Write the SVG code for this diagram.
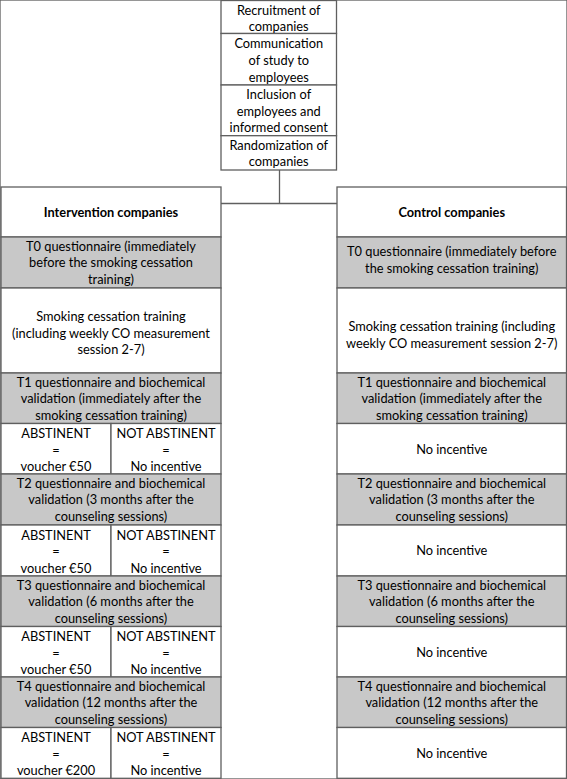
<svg xmlns="http://www.w3.org/2000/svg" width="567" height="779" viewBox="0 0 567 779">
<style>
rect{stroke:#5f5f5f;stroke-width:1.3}
.w{fill:#ffffff}
.g{fill:#c8c8c8}
text{font-family:Lato,"Liberation Sans",sans-serif;font-size:12.8px;fill:#000;text-anchor:middle}
.b{font-weight:bold}
.c line{stroke:#5f5f5f;stroke-width:1.3}
</style>
<rect x="0" y="0" width="567" height="779" fill="#fff" stroke="none"/>
<g class="c" id="connectors">
<line x1="279.5" y1="170" x2="279.5" y2="203.5"/>
<line x1="221" y1="203.5" x2="337" y2="203.5"/>
</g>
<g id="recruit"><rect class="w" x="221" y="0.5" width="115.5" height="33"/><text x="278.75" y="14.5">Recruitment of</text><text x="278.75" y="30.5">companies</text></g>
<g id="communication"><rect class="w" x="221" y="33.5" width="115.5" height="51.5"/><text x="278.75" y="48">Communication</text><text x="278.75" y="65">of study to</text><text x="278.75" y="81.5">employees</text></g>
<g id="inclusion"><rect class="w" x="221" y="85" width="115.5" height="50.7"/><text x="278.75" y="99">Inclusion of</text><text x="278.75" y="115.5">employees and</text><text x="278.75" y="132">informed consent</text></g>
<g id="randomization"><rect class="w" x="221" y="135.7" width="115.5" height="34.3"/><text x="278.75" y="149.5">Randomization of</text><text x="278.75" y="166">companies</text></g>

<g id="int-header"><rect class="w" x="1" y="187" width="220" height="50"/><text class="b" x="111" y="216.5">Intervention companies</text></g>
<g id="int-t0"><rect class="g" x="1" y="237" width="220" height="51"/><text x="111" y="250.5">T0 questionnaire (immediately</text><text x="111" y="267">before the smoking cessation</text><text x="111" y="283.7">training)</text></g>
<g id="int-training"><rect class="w" x="1" y="288" width="220" height="85"/><text x="111" y="321">Smoking cessation training</text><text x="111" y="337.5">(including weekly CO measurement</text><text x="111" y="354">session 2-7)</text></g>
<g id="int-t1"><rect class="g" x="1" y="373" width="220" height="50.5"/><text x="111" y="386.5">T1 questionnaire and biochemical</text><text x="111" y="403">validation (immediately after the</text><text x="111" y="419.7">smoking cessation training)</text></g>
<g id="int-r1"><rect class="w" x="1" y="423.5" width="110" height="50.5"/><rect class="w" x="111" y="423.5" width="110" height="50.5"/><text x="56" y="438">ABSTINENT</text><text x="56" y="454.5">=</text><text x="56" y="471">voucher €50</text><text x="166" y="438">NOT ABSTINENT</text><text x="166" y="454.5">=</text><text x="166" y="471">No incentive</text></g>
<g id="int-t2"><rect class="g" x="1" y="474" width="220" height="51"/><text x="111" y="487.5">T2 questionnaire and biochemical</text><text x="111" y="504">validation (3 months after the</text><text x="111" y="520.7">counseling sessions)</text></g>
<g id="int-r2"><rect class="w" x="1" y="525" width="110" height="51"/><rect class="w" x="111" y="525" width="110" height="51"/><text x="56" y="539.5">ABSTINENT</text><text x="56" y="556">=</text><text x="56" y="572.5">voucher €50</text><text x="166" y="539.5">NOT ABSTINENT</text><text x="166" y="556">=</text><text x="166" y="572.5">No incentive</text></g>
<g id="int-t3"><rect class="g" x="1" y="576" width="220" height="50.5"/><text x="111" y="589.5">T3 questionnaire and biochemical</text><text x="111" y="606">validation (6 months after the</text><text x="111" y="622.7">counseling sessions)</text></g>
<g id="int-r3"><rect class="w" x="1" y="626.5" width="110" height="50.5"/><rect class="w" x="111" y="626.5" width="110" height="50.5"/><text x="56" y="641">ABSTINENT</text><text x="56" y="657.5">=</text><text x="56" y="674">voucher €50</text><text x="166" y="641">NOT ABSTINENT</text><text x="166" y="657.5">=</text><text x="166" y="674">No incentive</text></g>
<g id="int-t4"><rect class="g" x="1" y="677" width="220" height="50.5"/><text x="111" y="690.5">T4 questionnaire and biochemical</text><text x="111" y="707">validation (12 months after the</text><text x="111" y="723.7">counseling sessions)</text></g>
<g id="int-r4"><rect class="w" x="1" y="727.5" width="110" height="50.8"/><rect class="w" x="111" y="727.5" width="110" height="50.8"/><text x="56" y="742">ABSTINENT</text><text x="56" y="758.5">=</text><text x="56" y="775">voucher €200</text><text x="166" y="742">NOT ABSTINENT</text><text x="166" y="758.5">=</text><text x="166" y="775">No incentive</text></g>

<g id="ctl-header"><rect class="w" x="337" y="187" width="229.5" height="50"/><text class="b" x="451.75" y="216.5">Control companies</text></g>
<g id="ctl-t0"><rect class="g" x="337" y="237" width="229.5" height="51"/><text x="451.75" y="256">T0 questionnaire (immediately before</text><text x="451.75" y="272.5">the smoking cessation training)</text></g>
<g id="ctl-training"><rect class="w" x="337" y="288" width="229.5" height="85"/><text x="451.75" y="331">Smoking cessation training (including</text><text x="451.75" y="347.5">weekly CO measurement session 2-7)</text></g>
<g id="ctl-t1"><rect class="g" x="337" y="373" width="229.5" height="50.5"/><text x="451.75" y="386.5">T1 questionnaire and biochemical</text><text x="451.75" y="403">validation (immediately after the</text><text x="451.75" y="419.7">smoking cessation training)</text></g>
<g id="ctl-r1"><rect class="w" x="337" y="423.5" width="229.5" height="50.5"/><text x="451.75" y="453.5">No incentive</text></g>
<g id="ctl-t2"><rect class="g" x="337" y="474" width="229.5" height="51"/><text x="451.75" y="487.5">T2 questionnaire and biochemical</text><text x="451.75" y="504">validation (3 months after the</text><text x="451.75" y="520.7">counseling sessions)</text></g>
<g id="ctl-r2"><rect class="w" x="337" y="525" width="229.5" height="51"/><text x="451.75" y="555">No incentive</text></g>
<g id="ctl-t3"><rect class="g" x="337" y="576" width="229.5" height="50.5"/><text x="451.75" y="589.5">T3 questionnaire and biochemical</text><text x="451.75" y="606">validation (6 months after the</text><text x="451.75" y="622.7">counseling sessions)</text></g>
<g id="ctl-r3"><rect class="w" x="337" y="626.5" width="229.5" height="50.5"/><text x="451.75" y="656.5">No incentive</text></g>
<g id="ctl-t4"><rect class="g" x="337" y="677" width="229.5" height="50.5"/><text x="451.75" y="690.5">T4 questionnaire and biochemical</text><text x="451.75" y="707">validation (12 months after the</text><text x="451.75" y="723.7">counseling sessions)</text></g>
<g id="ctl-r4"><rect class="w" x="337" y="727.5" width="229.5" height="50.8"/><text x="451.75" y="757.5">No incentive</text></g>
</svg>
